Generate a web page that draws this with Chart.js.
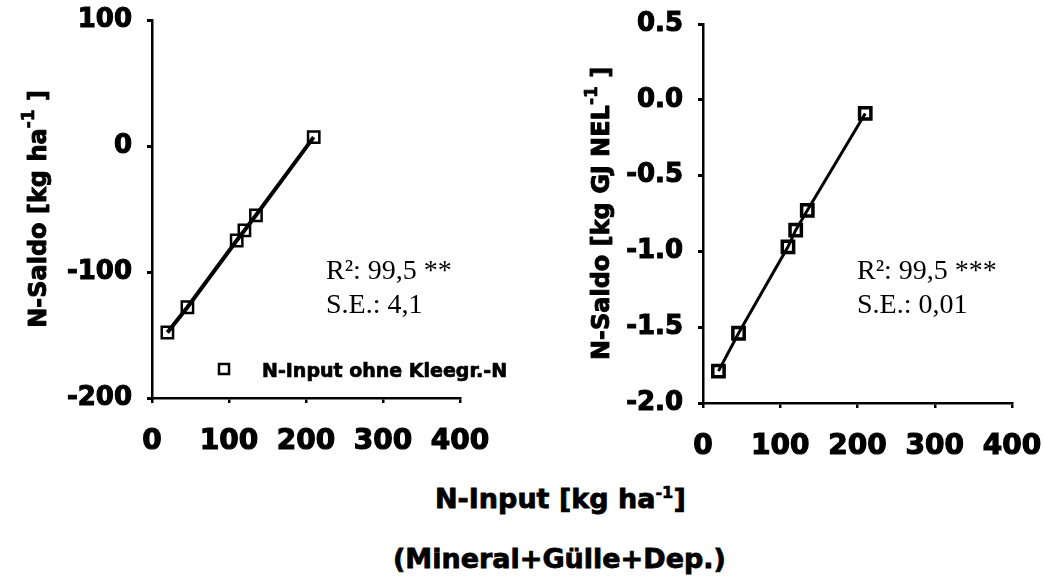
<!DOCTYPE html>
<html>
<head>
<meta charset="utf-8">
<script src="https://cdn.jsdelivr.net/npm/chart.js@4.4.0/dist/chart.umd.min.js"></script>
<style>
body { margin:0; background:#fff; width:1045px; height:576px; position:relative; overflow:hidden; font-family:"DejaVu Sans", sans-serif; }
canvas { position:absolute; top:0; }
#c1 { left:0; }
#c2 { left:530px; }
.xt { position:absolute; white-space:nowrap; font-weight:bold; font-size:27px; line-height:27px; color:#000; -webkit-text-stroke:0.8px #000; }
.xt sup { font-size:0.6em; vertical-align:0.6em; line-height:0; -webkit-text-stroke:0.6px #000; }
</style>
</head>
<body>
<canvas id="c1" width="530" height="470"></canvas>
<canvas id="c2" width="515" height="470"></canvas>
<div class="xt" style="left:435px; top:485px;">N-Input [kg ha<sup>-1</sup>]</div>
<div class="xt" style="left:393px; top:545px;">(Mineral+Gülle+Dep.)</div>
<script>
// N-Input (x) shared by both panels
var nInput = [20, 46, 110, 120, 135, 210];
// left panel: N-Saldo per ha
var saldoHa = [-148, -128, -75, -67, -55, 7];
// right panel: N-Saldo per GJ NEL
var saldoNel = [-1.79, -1.54, -0.97, -0.86, -0.73, -0.09];

var xTicks = [0, 100, 200, 300, 400];
var yTicksHa = [-200, -100, 0, 100];
var yTicksNel = [-2.0, -1.5, -1.0, -0.5, 0.0, 0.5];

var statsHa = ['R²: 99,5 **', 'S.E.: 4,1'];
var statsNel = ['R²: 99,5 ***', 'S.E.: 0,01'];
var legendText = 'N-Input ohne Kleegr.-N';

Chart.defaults.font.family = '"DejaVu Sans", sans-serif';
Chart.defaults.color = '#000';

function toPts(xs, ys) {
    var out = [];
    for (var i = 0; i < xs.length; i++) out.push({x: xs[i], y: ys[i]});
    return out;
}

// fill + thin stroke to get closer to the heavy black face of the original
function heavyText(ctx, s, x, y, sw) {
    ctx.fillText(s, x, y);
    ctx.lineWidth = sw;
    ctx.lineJoin = 'round';
    ctx.strokeText(s, x, y);
}

function drawYTitle(ctx, bx, cy, main, sup, tail, size) {
    ctx.save();
    ctx.translate(bx, cy);
    ctx.rotate(-Math.PI / 2);
    ctx.fillStyle = '#000';
    ctx.strokeStyle = '#000';
    ctx.textBaseline = 'alphabetic';
    var big = 'bold ' + size + 'px "DejaVu Sans"';
    var small = 'bold ' + Math.round(size * 0.7) + 'px "DejaVu Sans"';
    ctx.font = big;
    var w1 = ctx.measureText(main).width;
    var w3 = ctx.measureText(tail).width;
    ctx.font = small;
    var w2 = ctx.measureText(sup).width;
    var x = -(w1 + w2 + w3) / 2;
    ctx.font = big;
    heavyText(ctx, main, x, 0, 0.9);
    ctx.font = small;
    heavyText(ctx, sup, x + w1, -size * 0.5, 0.7);
    ctx.font = big;
    heavyText(ctx, tail, x + w1 + w2, 0, 0.9);
    ctx.restore();
}

function makeChart(id, ys, yTicks, fmt, geo, opts) {
    var ctx = document.getElementById(id);
    var pts = toPts(nInput, ys);

    var extras = {
        id: 'extras',
        afterDraw: function(chart) {
            var c = chart.ctx;
            drawYTitle(c, geo.titleX, (chart.chartArea.top + chart.chartArea.bottom) / 2,
                opts.title, '-1', ' ]', 24);
            c.save();
            c.fillStyle = '#000';
            c.strokeStyle = '#000';
            c.font = '28px "Liberation Serif"';
            c.textBaseline = 'alphabetic';
            c.fillText(opts.stats[0], geo.statX, 279);
            c.fillText(opts.stats[1], geo.statX, 313);
            if (opts.legend) {
                c.lineWidth = 2.5;
                c.strokeRect(219, 364, 10, 10);
                c.font = 'bold 19px "DejaVu Sans"';
                heavyText(c, opts.legend, 262, 377, 0.7);
            }
            c.restore();
        }
    };

    return new Chart(ctx, {
        type: 'scatter',
        data: {
            datasets: [
                {
                    data: pts,
                    showLine: true,
                    pointRadius: 0,
                    borderColor: '#000',
                    borderWidth: opts.lineWidth,
                    order: 1
                },
                {
                    data: pts,
                    showLine: false,
                    pointStyle: 'rect',
                    pointRadius: 8,
                    pointHoverRadius: 8,
                    pointBackgroundColor: '#fff',
                    pointBorderColor: '#000',
                    pointBorderWidth: opts.pointBorder,
                    order: 2
                }
            ]
        },
        options: {
            responsive: false,
            animation: false,
            devicePixelRatio: 1,
            layout: { padding: { top: geo.top, right: geo.right, bottom: 0, left: 0 } },
            plugins: { legend: { display: false }, tooltip: { enabled: false } },
            scales: {
                x: {
                    type: 'linear',
                    min: 0, max: 400,
                    afterBuildTicks: function(s) { s.ticks = xTicks.map(function(v) { return {value: v}; }); },
                    afterFit: function(s) {
                        s.height = geo.xHeight;
                        s.paddingLeft = 0; s.paddingRight = 0;
                    },
                    border: { color: '#000', width: 2.5 },
                    grid: { drawOnChartArea: false, drawTicks: true, tickLength: 5, color: '#000', lineWidth: 2.5 },
                    ticks: { font: { size: 28, weight: 'bold' }, color: '#000', padding: 22, maxRotation: 0,
                             textStrokeColor: '#000', textStrokeWidth: 1.2 }
                },
                y: {
                    type: 'linear',
                    min: yTicks[0], max: yTicks[yTicks.length - 1],
                    afterBuildTicks: function(s) { s.ticks = yTicks.map(function(v) { return {value: v}; }); },
                    afterFit: function(s) {
                        s.width = geo.yWidth;
                        s.paddingTop = 0; s.paddingBottom = 0;
                    },
                    border: { color: '#000', width: 2.5 },
                    grid: { drawOnChartArea: false, drawTicks: true, tickLength: 5, color: '#000', lineWidth: 3 },
                    ticks: { font: { size: 26, weight: 'bold' }, color: '#000', padding: 15, callback: fmt,
                             textStrokeColor: '#000', textStrokeWidth: 1.1 }
                }
            }
        },
        plugins: [extras]
    });
}

makeChart('c1', saldoHa, yTicksHa, function(v) { return String(v); },
    { top: 20, right: 70, xHeight: 72, yWidth: 152, titleX: 46, statX: 326 },
    { title: 'N-Saldo [kg ha', stats: statsHa, legend: legendText, lineWidth: 4, pointBorder: 2.5 });

makeChart('c2', saldoNel, yTicksNel, function(v) { return v.toFixed(1); },
    { top: 24, right: 33, xHeight: 67, yWidth: 173, titleX: 79, statX: 327 },
    { title: 'N-Saldo [kg GJ NEL', stats: statsNel, legend: null, lineWidth: 3, pointBorder: 3.5 });
</script>
</body>
</html>
